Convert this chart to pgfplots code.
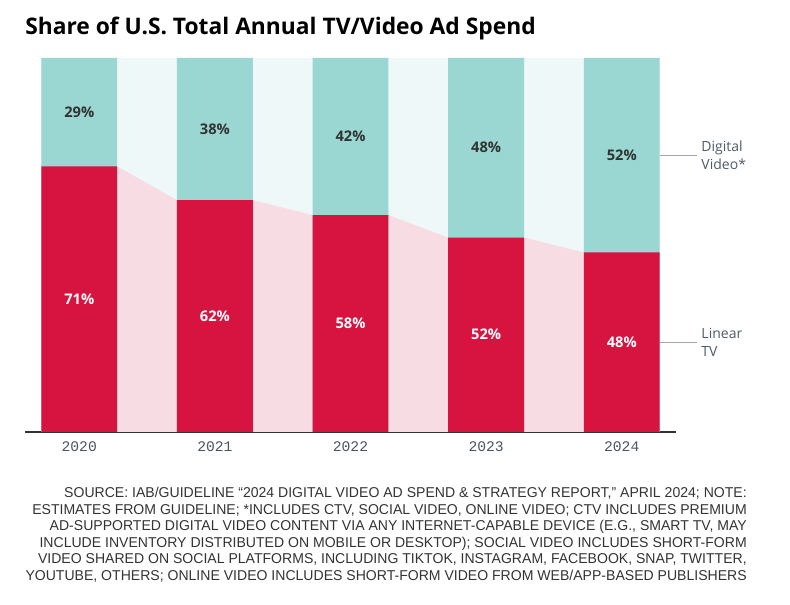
\documentclass[border=0pt]{standalone}
\usepackage{pgfplots}
\usepackage{pgfplotstable}
\pgfplotsset{compat=1.18}
\usepackage{fontspec}
\setmainfont{Open Sans}
\newfontfamily\monof{Liberation Mono}
\newfontfamily\notef{Liberation Sans}
\definecolor{linred}{RGB}{215,20,64}
\definecolor{digcyan}{RGB}{154,214,210}
\definecolor{lpink}{HTML}{F8DCE3}
\definecolor{lcyan}{HTML}{EEF8F9}
\definecolor{axgray}{HTML}{333333}
\definecolor{tickgray}{HTML}{4A5560}
\definecolor{sidegray}{HTML}{4F5B66}
\pgfplotstableread{
x lin dig
0 71 29
1 62 38
2 58 42
3 52 48
4 48 52
}\sharetab
\begin{document}
\begin{tikzpicture}[x=0.75pt,y=0.75pt]
\useasboundingbox (0,0) rectangle (790,605);
\node[anchor=base west, inner sep=0pt, font=\bfseries\fontsize{17.1pt}{20pt}\selectfont] at (25,570) {Share of U.S. Total Annual TV/Video Ad Spend};
\begin{axis}[
  at={(18.75pt,129.75pt)}, anchor=south west,
  scale only axis, width=488.25pt, height=280.5pt,
  xmin=-0.4, xmax=4.4, ymin=0, ymax=100,
  axis x line*=bottom, axis y line=none,
  x axis line style={line width=1.6pt, color=axgray, -},
  xtick={0,1,2,3,4}, xticklabels={2020,2021,2022,2023,2024},
  major tick length=0pt,
  xticklabel style={font=\monof\fontsize{11pt}{13pt}\selectfont, text=tickgray, yshift=-4pt},
  clip=false,
]
% background connectors
\addplot[fill=lcyan, draw=none] coordinates {(-0.28,100) (4.28,100)} \closedcycle;
\addplot[fill=lpink, draw=none] coordinates {(-0.28,71) (0.28,71) (0.72,62) (1.28,62) (1.72,58) (2.28,58) (2.72,52) (3.28,52) (3.72,48) (4.28,48)} \closedcycle;
% digital bars (stacked on linear, reaching 100)
\addplot[ybar, bar width=0.56, bar shift=0, fill=digcyan, draw=none] table[x=x, y expr=\thisrow{lin}+\thisrow{dig}] {\sharetab};
% linear bars
\addplot[ybar, bar width=0.56, bar shift=0, fill=linred, draw=none] table[x=x, y=lin] {\sharetab};
% labels
\addplot[draw=none, mark=none, nodes near coords={\pgfplotspointmeta\%}, point meta=explicit symbolic,
  every node near coord/.style={anchor=center, font=\bfseries\fontsize{11pt}{13pt}\selectfont, text=white}]
  table[x=x, y expr=\thisrow{lin}/2, meta=lin] {\sharetab};
\addplot[draw=none, mark=none, nodes near coords={\pgfplotspointmeta\%}, point meta=explicit symbolic,
  every node near coord/.style={anchor=center, font=\bfseries\fontsize{11pt}{13pt}\selectfont, text=axgray}]
  table[x=x, y expr=100-\thisrow{dig}/2, meta=dig] {\sharetab};
% side labels
\draw[color=black!35, line width=0.8pt] (axis cs:4.28,74) -- (axis cs:4.556,74);
\draw[color=black!35, line width=0.8pt] (axis cs:4.28,24) -- (axis cs:4.556,24);
\node[anchor=west, align=left, inner sep=0pt, text=sidegray, font=\fontsize{10.5pt}{13.5pt}\selectfont] at (axis cs:4.586,74) {Digital\\Video*};
\node[anchor=west, align=left, inner sep=0pt, text=sidegray, font=\fontsize{10.5pt}{13.5pt}\selectfont] at (axis cs:4.586,24) {Linear\\TV};
\end{axis}
\node[anchor=north east, inner sep=0pt, text=axgray] at (747,119) {\scalebox{0.985}[1]{\notef\fontsize{10.7pt}{12.4pt}\selectfont\begin{tabular}{@{}r@{}}
SOURCE: IAB/GUIDELINE “2024 DIGITAL VIDEO AD SPEND \& STRATEGY REPORT,” APRIL 2024; NOTE:\\
ESTIMATES FROM GUIDELINE; *INCLUDES CTV, SOCIAL VIDEO, ONLINE VIDEO; CTV INCLUDES PREMIUM\\
AD-SUPPORTED DIGITAL VIDEO CONTENT VIA ANY INTERNET-CAPABLE DEVICE (E.G., SMART TV, MAY\\
INCLUDE INVENTORY DISTRIBUTED ON MOBILE OR DESKTOP); SOCIAL VIDEO INCLUDES SHORT-FORM\\
VIDEO SHARED ON SOCIAL PLATFORMS, INCLUDING TIKTOK, INSTAGRAM, FACEBOOK, SNAP, TWITTER,\\
YOUTUBE, OTHERS; ONLINE VIDEO INCLUDES SHORT-FORM VIDEO FROM WEB/APP-BASED PUBLISHERS
\end{tabular}}};
\end{tikzpicture}
\end{document}
